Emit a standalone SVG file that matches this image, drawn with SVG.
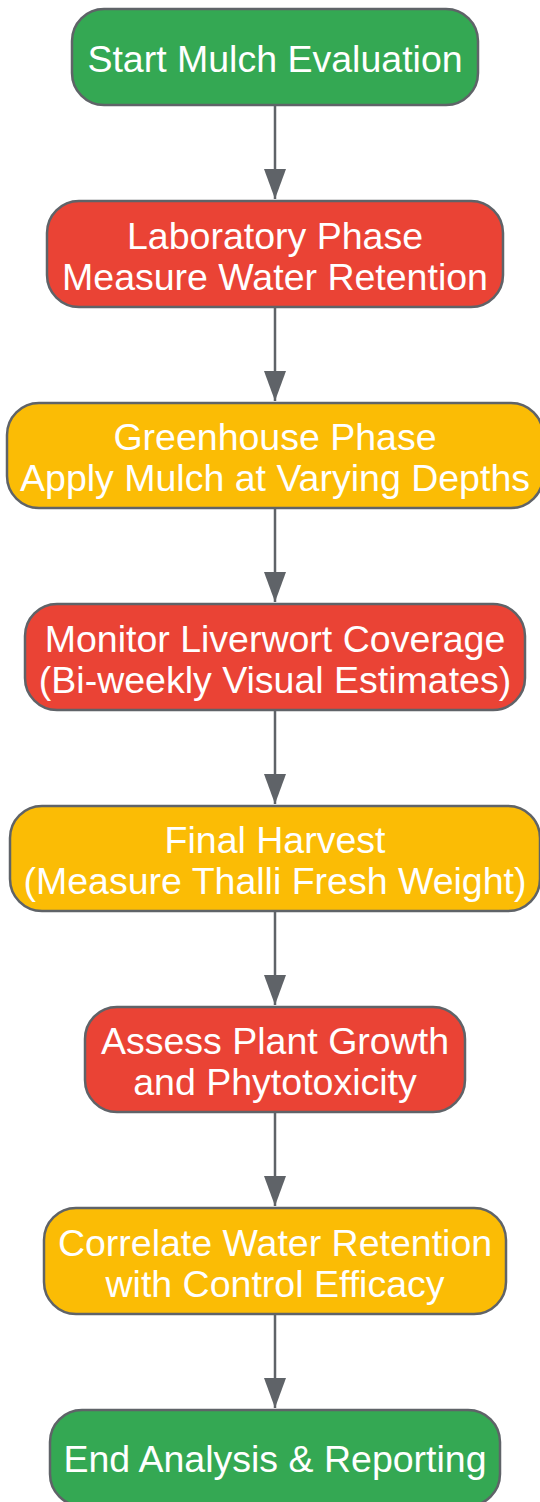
<svg xmlns="http://www.w3.org/2000/svg" width="540" height="1502" viewBox="0 0 540 1502">
<style>
.n{stroke:#5f6368;stroke-width:2.5}
.g{fill:#34a853}.r{fill:#ea4335}.y{fill:#fbbc05}
text{font-family:"Liberation Sans",Arial,sans-serif;font-size:37.5px;fill:#ffffff;text-anchor:middle}
.e{stroke:#5f6368;stroke-width:2.5;fill:none}
</style>
<defs>
<marker id="ah" markerUnits="userSpaceOnUse" markerWidth="30" markerHeight="22" refX="30" refY="11" orient="auto" viewBox="0 0 30 22">
<path d="M0,0 L30,11 L0,22 Z" fill="#5f6368"/>
</marker>
</defs>
<g id="connectors">
<path class="e" d="M275,105 V199" marker-end="url(#ah)"/>
<path class="e" d="M275,307 V401" marker-end="url(#ah)"/>
<path class="e" d="M275,508 V602" marker-end="url(#ah)"/>
<path class="e" d="M275,710 V804" marker-end="url(#ah)"/>
<path class="e" d="M275,911 V1005" marker-end="url(#ah)"/>
<path class="e" d="M275,1112 V1206" marker-end="url(#ah)"/>
<path class="e" d="M275,1314 V1408" marker-end="url(#ah)"/>
</g>
<g id="start"><rect class="n g" x="72" y="9" width="406" height="96" rx="32"/><text x="275" y="72">Start Mulch Evaluation</text></g>
<g id="lab"><rect class="n r" x="47" y="201" width="456" height="106" rx="32"/><text x="275" y="248.5">Laboratory Phase</text><text x="275" y="289.5">Measure Water Retention</text></g>
<g id="greenhouse"><rect class="n y" x="7" y="403" width="536" height="105" rx="32"/><text x="275" y="450">Greenhouse Phase</text><text x="275" y="491">Apply Mulch at Varying Depths</text></g>
<g id="monitor"><rect class="n r" x="25" y="604" width="500" height="106" rx="32"/><text x="275" y="651.5">Monitor Liverwort Coverage</text><text x="275" y="692.5">(Bi-weekly Visual Estimates)</text></g>
<g id="harvest"><rect class="n y" x="10" y="806" width="530" height="105" rx="32"/><text x="275" y="853">Final Harvest</text><text x="275" y="894">(Measure Thalli Fresh Weight)</text></g>
<g id="assess"><rect class="n r" x="85" y="1007" width="380" height="105" rx="32"/><text x="275" y="1054">Assess Plant Growth</text><text x="275" y="1095">and Phytotoxicity</text></g>
<g id="correlate"><rect class="n y" x="44" y="1208" width="462" height="106" rx="32"/><text x="275" y="1255.5">Correlate Water Retention</text><text x="275" y="1296.5">with Control Efficacy</text></g>
<g id="end"><rect class="n g" x="50" y="1410" width="450" height="96" rx="32"/><text x="275" y="1472">End Analysis &amp; Reporting</text></g>
</svg>
